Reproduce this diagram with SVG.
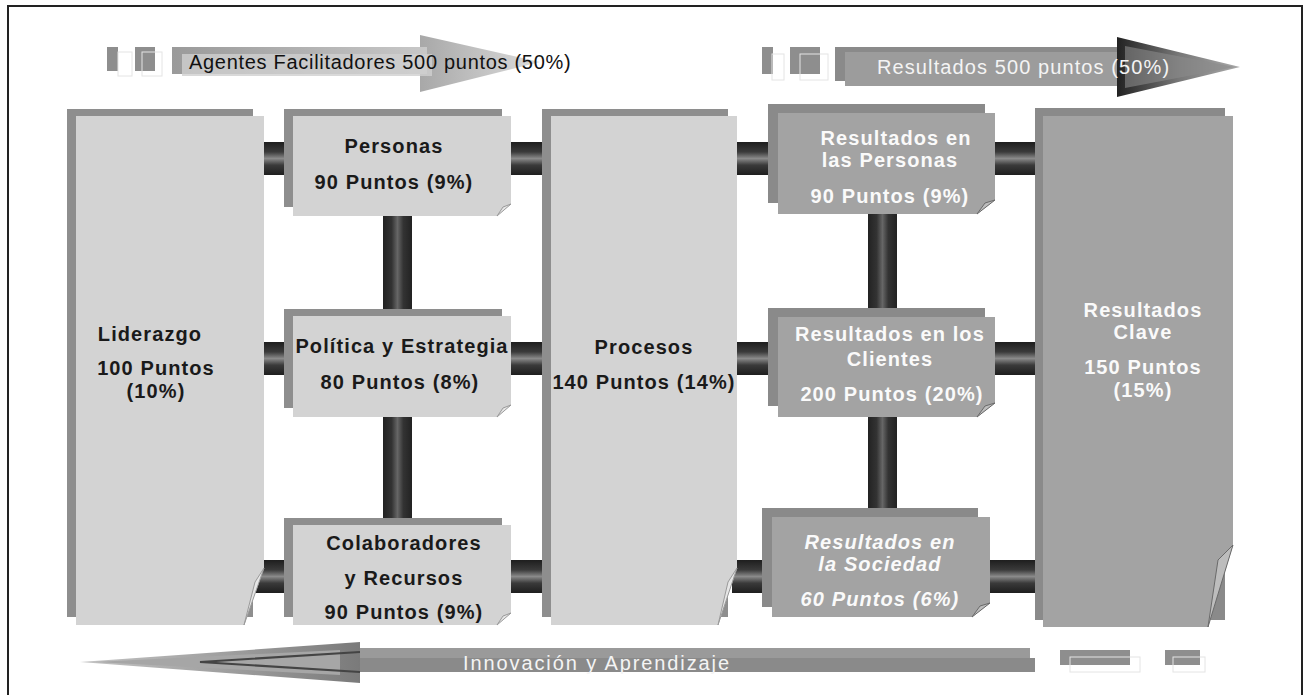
<svg xmlns="http://www.w3.org/2000/svg" width="1308" height="695" viewBox="0 0 1308 695">
<defs>
<linearGradient id="tubeH" x1="0" y1="0" x2="0" y2="1">
<stop offset="0" stop-color="#1e1e1e"/><stop offset="0.3" stop-color="#3a3a3a"/><stop offset="0.5" stop-color="#8a8a8a"/><stop offset="0.7" stop-color="#3a3a3a"/><stop offset="1" stop-color="#1e1e1e"/>
</linearGradient>
<linearGradient id="tubeV" x1="0" y1="0" x2="1" y2="0">
<stop offset="0" stop-color="#222"/><stop offset="0.3" stop-color="#333"/><stop offset="0.5" stop-color="#666"/><stop offset="0.7" stop-color="#333"/><stop offset="1" stop-color="#222"/>
</linearGradient>
<linearGradient id="bodyL" x1="0" y1="0" x2="1" y2="0">
<stop offset="0" stop-color="#9a9a9a"/><stop offset="1" stop-color="#c8c8c8"/>
</linearGradient>
<linearGradient id="headL" x1="0" y1="0" x2="1" y2="0">
<stop offset="0" stop-color="#a8a8a8"/><stop offset="1" stop-color="#dcdcdc"/>
</linearGradient>
<linearGradient id="headR" x1="0" y1="0" x2="1" y2="0">
<stop offset="0" stop-color="#222"/><stop offset="0.5" stop-color="#777"/><stop offset="1" stop-color="#aaa"/>
</linearGradient>
<linearGradient id="headB" x1="1" y1="0" x2="0" y2="0">
<stop offset="0" stop-color="#7a7a7a"/><stop offset="0.4" stop-color="#999"/><stop offset="1" stop-color="#c4c4c4"/>
</linearGradient>
</defs>
<style>
.frame{fill:#fff;stroke:#222;stroke-width:2}
.back{fill:#8e8e8e}
.light{fill:#d3d3d3}
.dark{fill:#a3a3a3}
.backd{fill:#8a8a8a}
.curlL{fill:#e6e6e6;stroke:#9a9a9a;stroke-width:1}
.curlD{fill:#bdbdbd;stroke:#6a6a6a;stroke-width:1}
.t{font-family:"Liberation Sans",Arial,sans-serif;font-weight:bold;font-size:20px;text-anchor:middle;letter-spacing:1.1px}
.tb{fill:#1a1a1a}
.tw{fill:#fafafa}
.ti{font-style:italic}
.at{font-family:"Liberation Sans",Arial,sans-serif;font-size:20px}
.sq{fill:#8e8e8e}
.sqo{fill:none;stroke:#e4e4e4;stroke-width:1}
</style>
<rect class="frame" x="8" y="6" width="1294" height="700"/>

<g id="connectors">
<rect x="258" y="142" width="40" height="33" fill="url(#tubeH)"/>
<rect x="505" y="142" width="50" height="33" fill="url(#tubeH)"/>
<rect x="732" y="142" width="50" height="33" fill="url(#tubeH)"/>
<rect x="990" y="142" width="56" height="33" fill="url(#tubeH)"/>
<rect x="258" y="342" width="40" height="33" fill="url(#tubeH)"/>
<rect x="505" y="342" width="50" height="33" fill="url(#tubeH)"/>
<rect x="732" y="342" width="50" height="33" fill="url(#tubeH)"/>
<rect x="990" y="342" width="56" height="33" fill="url(#tubeH)"/>
<rect x="250" y="560" width="48" height="33" fill="url(#tubeH)"/>
<rect x="505" y="560" width="50" height="33" fill="url(#tubeH)"/>
<rect x="732" y="560" width="44" height="33" fill="url(#tubeH)"/>
<rect x="985" y="560" width="61" height="33" fill="url(#tubeH)"/>
<rect x="383" y="214" width="29" height="98" fill="url(#tubeV)"/>
<rect x="383" y="414" width="29" height="108" fill="url(#tubeV)"/>
<rect x="868" y="212" width="29" height="102" fill="url(#tubeV)"/>
<rect x="868" y="414" width="29" height="98" fill="url(#tubeV)"/>
</g>

<g id="arrow-agentes">
<rect class="sq" x="107" y="47" width="11" height="24"/>
<rect class="sqo" x="118" y="52" width="14" height="24"/>
<rect class="sq" x="135" y="47" width="20" height="24"/>
<rect class="sqo" x="142" y="52" width="20" height="24"/>
<path d="M420,35 L540,62 L420,92 Z" fill="url(#headL)"/>
<rect x="172" y="47" width="255" height="27" fill="url(#bodyL)"/>
<rect x="182" y="54" width="250" height="22" fill="#d0d0d0" opacity="0.8"/>
<text class="at" x="189" y="69" fill="#111" letter-spacing="0.7">Agentes Facilitadores 500 puntos (50%)</text>
</g>

<g id="arrow-resultados">
<rect class="sq" x="762" y="47" width="11" height="27"/>
<rect class="sqo" x="772" y="54" width="12" height="26"/>
<rect class="sq" x="790" y="47" width="30" height="27"/>
<rect class="sqo" x="800" y="54" width="28" height="26"/>
<rect x="835" y="47" width="290" height="34" fill="#8a8a8a"/>
<rect x="845" y="52" width="285" height="34" fill="#9c9c9c"/>
<path d="M1117,37 L1240,67 L1117,97 Z" fill="url(#headR)"/>
<path d="M1125,46 L1235,67 L1125,88 Z" fill="#8a8a8a" opacity="0.6"/>
<text class="at" x="877" y="74" fill="#f4f4f4" font-size="21" letter-spacing="1.1">Resultados 500 puntos (50%)</text>
</g>

<g id="arrow-innovacion">
<path d="M360,642 L80,662 L360,683 Z" fill="url(#headB)"/>
<path d="M340,650 L95,662 L340,675 Z" fill="#a6a6a6"/>
<path d="M360,652 L200,662 L360,672" fill="none" stroke="#444" stroke-width="2"/>
<rect x="360" y="648" width="670" height="14" fill="#9a9a9a"/>
<rect x="360" y="658" width="675" height="14" fill="#8a8a8a"/>
<text class="at" x="463" y="670" fill="#f4f4f4" font-size="22" letter-spacing="1.9">Innovación y Aprendizaje</text>
<rect class="sq" x="1060" y="650" width="70" height="15"/>
<rect class="sqo" x="1070" y="657" width="70" height="15"/>
<rect class="sq" x="1165" y="650" width="35" height="15"/>
<rect class="sqo" x="1173" y="657" width="32" height="15"/>
</g>

<g id="liderazgo">
<rect class="back" x="67" y="109" width="186" height="508"/>
<path class="light" d="M76,116 H264 V568 L244,625 H76 Z"/>
<path class="curlL" d="M264,568 L255,582 L244,625 Z"/>
<text class="t tb" x="150" y="341">Liderazgo</text>
<text class="t tb" x="156" y="375">100 Puntos</text>
<text class="t tb" x="156" y="398">(10%)</text>
</g>

<g id="personas">
<rect class="back" x="284" y="109" width="218" height="98"/>
<path class="light" d="M293,116 H511 V204 L497,216 H293 Z"/>
<path class="curlL" d="M511,204 L503,207 L497,216 Z"/>
<text class="t tb" x="394" y="153">Personas</text>
<text class="t tb" x="394" y="189">90 Puntos (9%)</text>
</g>

<g id="politica">
<rect class="back" x="284" y="309" width="218" height="99"/>
<path class="light" d="M293,316 H511 V405 L497,417 H293 Z"/>
<path class="curlL" d="M511,405 L503,408 L497,417 Z"/>
<text class="t tb" x="402" y="353" letter-spacing="0.3">Política y Estrategia</text>
<text class="t tb" x="400" y="389">80 Puntos (8%)</text>
</g>

<g id="colaboradores">
<rect class="back" x="284" y="518" width="218" height="99"/>
<path class="light" d="M293,525 H511 V613 L497,625 H293 Z"/>
<path class="curlL" d="M511,613 L503,616 L497,625 Z"/>
<text class="t tb" x="404" y="550">Colaboradores</text>
<text class="t tb" x="404" y="585">y Recursos</text>
<text class="t tb" x="404" y="619">90 Puntos (9%)</text>
</g>

<g id="procesos">
<rect class="back" x="542" y="109" width="186" height="508"/>
<path class="light" d="M551,116 H737 V568 L718,625 H551 Z"/>
<path class="curlL" d="M737,568 L728,582 L718,625 Z"/>
<text class="t tb" x="644" y="354">Procesos</text>
<text class="t tb" x="644" y="389" letter-spacing="0.6">140 Puntos (14%)</text>
</g>

<g id="res-personas">
<rect class="backd" x="768" y="104" width="217" height="99"/>
<path class="dark" d="M778,113 H995 V200 L977,214 H778 Z"/>
<path class="curlD" d="M995,200 L985,203 L977,214 Z"/>
<text class="t tw" x="896" y="145">Resultados en</text>
<text class="t tw" x="890" y="167">las Personas</text>
<text class="t tw" x="890" y="203">90 Puntos (9%)</text>
</g>

<g id="res-clientes">
<rect class="backd" x="768" y="308" width="217" height="98"/>
<path class="dark" d="M778,317 H995 V403 L977,417 H778 Z"/>
<path class="curlD" d="M995,403 L985,406 L977,417 Z"/>
<text class="t tw" x="890" y="341" letter-spacing="0.4">Resultados en los</text>
<text class="t tw" x="890" y="366">Clientes</text>
<text class="t tw" x="892" y="401" letter-spacing="0.6">200 Puntos (20%)</text>
</g>

<g id="res-sociedad">
<rect class="backd" x="762" y="508" width="216" height="99"/>
<path class="dark" d="M772,517 H990 V603 L972,617 H772 Z"/>
<path class="curlD" d="M990,603 L980,606 L972,617 Z"/>
<text class="t tw ti" x="880" y="549">Resultados en</text>
<text class="t tw ti" x="880" y="571">la Sociedad</text>
<text class="t tw ti" x="880" y="606">60 Puntos (6%)</text>
</g>

<g id="res-clave">
<rect class="backd" x="1035" y="108" width="190" height="512"/>
<path class="dark" d="M1043,116 H1233 V545 L1208,627 H1043 Z"/>
<path class="curlD" d="M1233,545 L1218,560 L1208,627 Z"/>
<text class="t tw" x="1143" y="317">Resultados</text>
<text class="t tw" x="1143" y="339">Clave</text>
<text class="t tw" x="1143" y="374">150 Puntos</text>
<text class="t tw" x="1143" y="397">(15%)</text>
</g>
</svg>
